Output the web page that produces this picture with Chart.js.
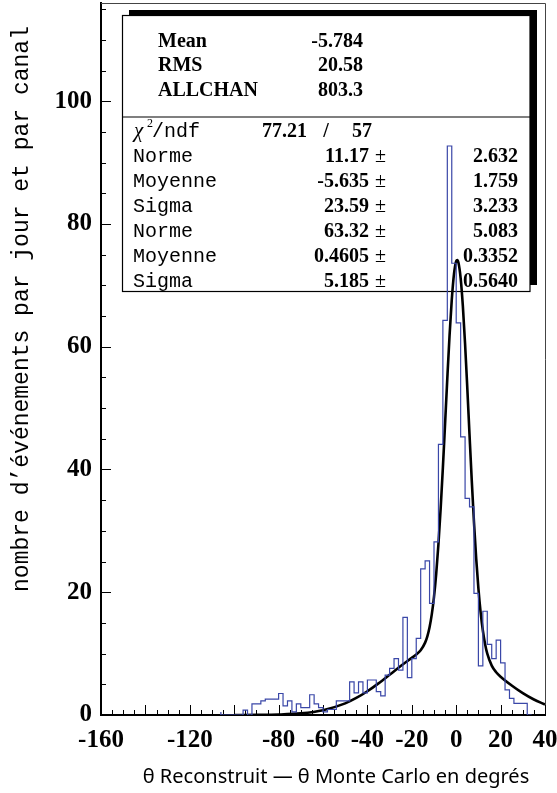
<!DOCTYPE html>
<html><head><meta charset="utf-8">
<script src="https://cdn.jsdelivr.net/npm/chart.js@4.4.1/dist/chart.umd.min.js"></script>
<style>html,body{margin:0;padding:0;background:#fff;}canvas{display:block;}</style>
</head><body>
<canvas id="c" width="557" height="793"></canvas>
<script>
// ---- data ----
const binLeftEdges = [-106,-104,-102,-100,-98,-96,-94,-92,-90,-88,-86,-84,-82,-80,-78,-76,-74,-72,-70,-68,-66,-64,-62,-60,-58,-56,-54,-52,-50,-48,-46,-44,-42,-40,-38,-36,-34,-32,-30,-28,-26,-24,-22,-20,-18,-16,-14,-12,-10,-8,-6,-4,-2,0,2,4,6,8,10,12,14,16,18,20,22,24,26,28,30,32];
const binCounts = [0.5,0,0,0,0,0,0.8,0,1.8,1.8,2.3,2.6,2.6,2.6,3.5,1.5,2.3,0.5,1.8,1.2,1.2,3.3,1.8,1.2,0.5,0.9,0.9,2.3,2.3,2.3,5.4,3.6,5.4,3.6,5.7,5.7,3.8,3.1,6.5,7.6,9.2,7.3,15.9,6.1,9.2,12.5,23.8,25.1,18.2,28.2,44.1,64.3,92.7,73.6,63.9,45.3,35.3,33.9,19.8,8.0,16.9,11.5,9.2,12.2,8.5,4.1,2.7,1.9,1.9,1.9];
const histRightEdge = 34;

const fitX = [-100,-90,-80,-70,-60,-50,-45,-40,-35,-30,-25,-20,-18,-16,-14,-13,-12,-11,-10,-9,-8,-7,-6,-5,-4,-3,-2,-1,0,0.5,1,2,3,4,5,6,7,8,9,10,11,12,13,14,16,18,20,25,30,35,40];
const fitY = [0,0.02,0.08,0.27,0.78,1.9,2.78,3.87,5.15,6.55,7.98,9.31,9.85,10.55,11.79,12.82,14.30,16.39,19.25,23.04,27.84,33.64,40.30,47.54,54.88,61.78,67.62,71.82,73.93,74.12,73.71,71.19,66.61,60.44,53.25,45.67,38.26,31.45,25.53,20.63,16.73,13.77,11.58,9.99,8.05,6.97,6.24,4.81,3.57,2.53,1.72];

const xTickLabels = [-160,-120,-80,-60,-40,-20,0,20,40];
const yTickLabels = [0,20,40,60,80,100];

const statNames = ['Mean','RMS','ALLCHAN'];
const statValues = ['-5.784','20.58','803.3'];
const chi2Value = '77.21';
const ndfValue = '57';
const fitParamNames = ['Norme','Moyenne','Sigma','Norme','Moyenne','Sigma'];
const fitParamValues = ['11.17','-5.635','23.59','63.32','0.4605','5.185'];
const fitParamErrors = ['2.632','1.759','3.233','5.083','0.3352','0.5640'];

const xTitle = 'θ Reconstruit — θ Monte Carlo en degrés';
const yTitle = 'nombre d\u2019événements par jour et par canal';

// ---- build datasets ----
const histPoints = [{x: binLeftEdges[0], y: 0}];
binLeftEdges.forEach((e, i) => histPoints.push({x: e, y: binCounts[i]}));
histPoints.push({x: histRightEdge, y: 0});
const fitPoints = fitX.map((x, i) => ({x: x, y: fitY[i]}));

const SERIF = '"Liberation Serif", "Times New Roman", serif';
const MONO = '"Liberation Mono", "Courier New", monospace';
const SANS = '"Noto Sans", "Open Sans", sans-serif';

function isMult(v, m) { return Math.abs(v / m - Math.round(v / m)) < 1e-6; }

const decor = {
  id: 'decor',
  beforeDatasetsDraw(chart) {
    const ctx = chart.ctx, a = chart.chartArea;
    const xs = chart.scales.x, ys = chart.scales.y;
    ctx.save();
    // frame (top / right)
    ctx.strokeStyle = '#444'; ctx.lineWidth = 1;
    ctx.beginPath();
    ctx.moveTo(a.left, a.top + 0.5); ctx.lineTo(a.right + 0.5, a.top + 0.5); ctx.lineTo(a.right + 0.5, a.bottom);
    ctx.stroke();
    // inward ticks
    ctx.strokeStyle = '#000'; ctx.lineWidth = 1;
    ctx.beginPath();
    xs.ticks.forEach(t => {
      const px = Math.round(xs.getPixelForValue(t.value)) + 0.5;
      const len = isMult(t.value, 20) ? 10 : 5;
      ctx.moveTo(px, a.bottom); ctx.lineTo(px, a.bottom - len);
    });
    ys.ticks.forEach(t => {
      const py = Math.round(ys.getPixelForValue(t.value)) + 0.5;
      const len = isMult(t.value, 20) ? 10 : 5;
      ctx.moveTo(a.left, py); ctx.lineTo(a.left + len, py);
    });
    ctx.stroke();

    // stats box
    const bx = 122.5, by = 15.5, bw = 407.5, bh = 276;
    ctx.fillStyle = '#000';
    ctx.fillRect(129, 10, 408, 275);
    ctx.fillStyle = '#fff';
    ctx.fillRect(bx, by, bw, bh);
    ctx.strokeStyle = '#000'; ctx.lineWidth = 1.2;
    ctx.strokeRect(bx, by, bw, bh);
    ctx.beginPath(); ctx.moveTo(bx, 117); ctx.lineTo(bx + bw, 117); ctx.stroke();

    ctx.fillStyle = '#000';
    ctx.textBaseline = 'alphabetic';
    const upBase = [46.5, 70.5, 95.5];
    ctx.font = 'bold 20px ' + SERIF;
    statNames.forEach((n, i) => {
      ctx.textAlign = 'left'; ctx.fillText(n, 158, upBase[i]);
      ctx.textAlign = 'right'; ctx.fillText(statValues[i], 363, upBase[i]);
    });

    const rowBase = [136.5, 161.5, 186.5, 211.5, 236.5, 261.5, 286.5];
    // chi2 / ndf row
    ctx.textAlign = 'left';
    ctx.font = 'italic 21px ' + SERIF;
    ctx.fillText('χ', 134, rowBase[0]);
    ctx.font = '12px ' + SERIF;
    ctx.fillText('2', 147, rowBase[0] - 10);
    ctx.font = '20px ' + MONO;
    ctx.fillText('/ndf', 152, rowBase[0]);
    ctx.font = 'bold 20px ' + SERIF;
    ctx.textAlign = 'right';
    ctx.fillText(chi2Value, 307, rowBase[0]);
    ctx.textAlign = 'center';
    ctx.fillText('/', 326, rowBase[0]);
    ctx.textAlign = 'right';
    ctx.fillText(ndfValue, 372, rowBase[0]);

    fitParamNames.forEach((n, i) => {
      const yb = rowBase[i + 1];
      ctx.textAlign = 'left';
      ctx.font = '20px ' + MONO;
      ctx.fillText(n, 133, yb);
      ctx.textAlign = 'right';
      ctx.font = 'bold 20px ' + SERIF;
      ctx.fillText(fitParamValues[i], 369, yb);
      ctx.textAlign = 'left';
      ctx.font = '20px ' + SERIF;
      ctx.fillText('±', 375, yb);
      ctx.textAlign = 'right';
      ctx.font = 'bold 20px ' + SERIF;
      ctx.fillText(fitParamErrors[i], 518, yb);
    });

    // axis titles
    ctx.textAlign = 'center'; ctx.textBaseline = 'middle';
    ctx.font = '20px ' + SANS;
    ctx.fillText(xTitle, 336, 777);
    ctx.save();
    ctx.translate(22, 309);
    ctx.rotate(-Math.PI / 2);
    ctx.font = '23px ' + MONO;
    ctx.fillText(yTitle, 0, 0);
    ctx.restore();
    ctx.restore();
  }
};

new Chart(document.getElementById('c').getContext('2d'), {
  type: 'line',
  data: {
    datasets: [
      {label: 'histogramme', data: histPoints, stepped: 'after', borderColor: '#3a47a8', borderWidth: 1.2,
       pointRadius: 0, fill: false, tension: 0},
      {label: 'ajustement', data: fitPoints, borderColor: '#000', borderWidth: 2.6, pointRadius: 0, fill: false,
       cubicInterpolationMode: 'monotone'}
    ]
  },
  options: {
    responsive: false, animation: false, devicePixelRatio: 1,
    layout: {padding: {left: 0, right: 12, top: 3, bottom: 0}},
    plugins: {legend: {display: false}, tooltip: {enabled: false}, title: {display: false}},
    scales: {
      x: {
        type: 'linear', min: -160, max: 40,
        grid: {display: false, drawTicks: false},
        border: {display: true, color: '#000', width: 2},
        ticks: {stepSize: 5, autoSkip: false, maxRotation: 0, includeBounds: false, padding: 11, color: '#000',
                font: {family: SERIF, weight: 'bold', size: 25},
                callback: v => xTickLabels.includes(v) ? String(v) : ''},
        afterFit: s => { s.height = 78; s.paddingLeft = 0; s.paddingRight = 0; }
      },
      y: {
        type: 'linear', min: 0, max: 116,
        grid: {display: false, drawTicks: false},
        border: {display: true, color: '#000', width: 2},
        ticks: {stepSize: 5, autoSkip: false, includeBounds: false, padding: 9, color: '#000',
                font: {family: SERIF, weight: 'bold', size: 25},
                callback: v => yTickLabels.includes(v) ? String(v) : ''},
        afterFit: s => { s.width = 101; s.paddingTop = 0; s.paddingBottom = 0; }
      }
    }
  },
  plugins: [decor]
});
</script>
</body></html>
